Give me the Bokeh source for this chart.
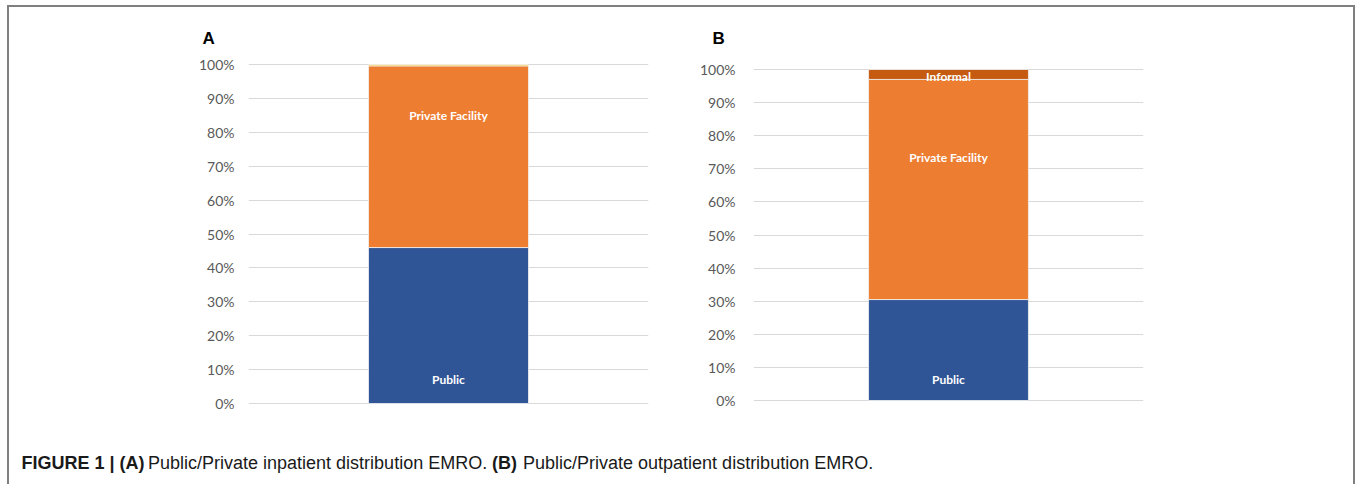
import numpy as np
from bokeh.plotting import figure
from bokeh.layouts import column, row
from bokeh.models import Range1d, FixedTicker, NumeralTickFormatter, Label
from bokeh.core.properties import value
from bokeh.embed import file_html
from bokeh.resources import INLINE

# ---------------- data ----------------
segments_A = ["Public", "Private Facility", "Other"]
values_A = [0.46, 0.536, 0.004]
colors_A = ["#2F5597", "#ED7D31", "#FFC000"]
labels_A = ["Public", "Private Facility"]
label_y_A = [0.071, 0.85]

segments_B = ["Public", "Private Facility", "Informal"]
values_B = [0.305, 0.665, 0.03]
colors_B = ["#2F5597", "#ED7D31", "#C55A11"]
labels_B = ["Public", "Private Facility", "Informal"]
label_y_B = [0.063, 0.734, 0.978]

y_ticks = [i / 10 for i in range(11)]

caption_bold_1 = "FIGURE 1 | (A)"
caption_text_1 = "Public/Private inpatient distribution EMRO."
caption_bold_2 = "(B)"
caption_text_2 = "Public/Private outpatient distribution EMRO."

TICK_FONT = "Lato"
LABEL_FONT = "Lato"


def panel(letter, values, colors, labels, label_y, width, y_start, y_end,
          bl, br, bar_w, letter_offset, standoff):
    p = figure(width=width, height=423, output_backend="svg",
               toolbar_location=None, x_range=Range1d(0, 1),
               y_range=Range1d(y_start, y_end),
               min_border_left=bl, min_border_right=br,
               min_border_top=53, min_border_bottom=24,
               title=letter)
    p.title.text_font = "Liberation Sans"
    p.title.text_font_style = "bold"
    p.title.text_font_size = "17px"
    p.title.text_color = "black"
    p.title.align = "left"
    p.title.offset = letter_offset
    p.title.standoff = 26
    p.outline_line_color = None
    p.xaxis.visible = False
    p.xgrid.visible = False
    p.ygrid.grid_line_color = "#D9D9D9"
    p.ygrid.grid_line_width = 1.2
    p.yaxis.ticker = FixedTicker(ticks=y_ticks)
    p.yaxis.formatter = NumeralTickFormatter(format="0%")
    p.yaxis.axis_line_color = None
    p.yaxis.major_tick_line_color = None
    p.yaxis.minor_tick_line_color = None
    p.yaxis.major_label_text_font = TICK_FONT
    p.yaxis.major_label_text_font_size = "14px"
    p.yaxis.major_label_text_color = "#595959"
    p.yaxis.major_label_standoff = standoff

    tops = np.cumsum(values)
    bottoms = tops - np.array(values)
    p.vbar(x=[0.5] * len(values), width=bar_w, top=list(tops),
           bottom=list(bottoms), fill_color=colors,
           line_color="#F2F2F2", line_width=0.8)

    p.text(x=[0.5] * len(labels), y=label_y, text=labels,
           text_color="white", text_font=value(LABEL_FONT),
           text_font_style="bold", text_font_size="12px",
           text_align="center", text_baseline="middle")
    return p


pA = panel("A", values_A, colors_A, labels_A, label_y_A, width=671,
           y_start=-0.00885, y_end=1.0118, bl=239, br=32, bar_w=0.4,
           letter_offset=-46, standoff=8)
pB = panel("B", values_B, colors_B, labels_B, label_y_B, width=673,
           y_start=-0.0181, y_end=1.0272, bl=73, br=210, bar_w=0.41,
           letter_offset=-41, standoff=12)

cap = figure(width=1344, height=54, output_backend="svg",
             toolbar_location=None, x_range=Range1d(0, 1344),
             y_range=Range1d(0, 54), min_border=0)
cap.axis.visible = False
cap.grid.visible = False
cap.outline_line_color = None

parts = [(caption_bold_1, "bold", 12),
         (caption_text_1, "normal", 138.5),
         (caption_bold_2, "bold", 482.5),
         (caption_text_2, "normal", 513.5)]
for txt, style, xpos in parts:
    cap.add_layout(Label(x=xpos, y=22, text=txt,
                         text_font="Liberation Sans",
                         text_font_style=style, text_font_size="18px",
                         text_color="#1a1a1a", text_align="left",
                         text_baseline="middle"))

layout = column(row(pA, pB), cap,
                styles={"margin-left": "7px", "margin-top": "5px",
                        "border-top": "2px solid #7F7F7F",
                        "border-left": "2px solid #7F7F7F",
                        "border-right": "2px solid #7F7F7F"})

open("out.html", "w").write(file_html(layout, INLINE))
